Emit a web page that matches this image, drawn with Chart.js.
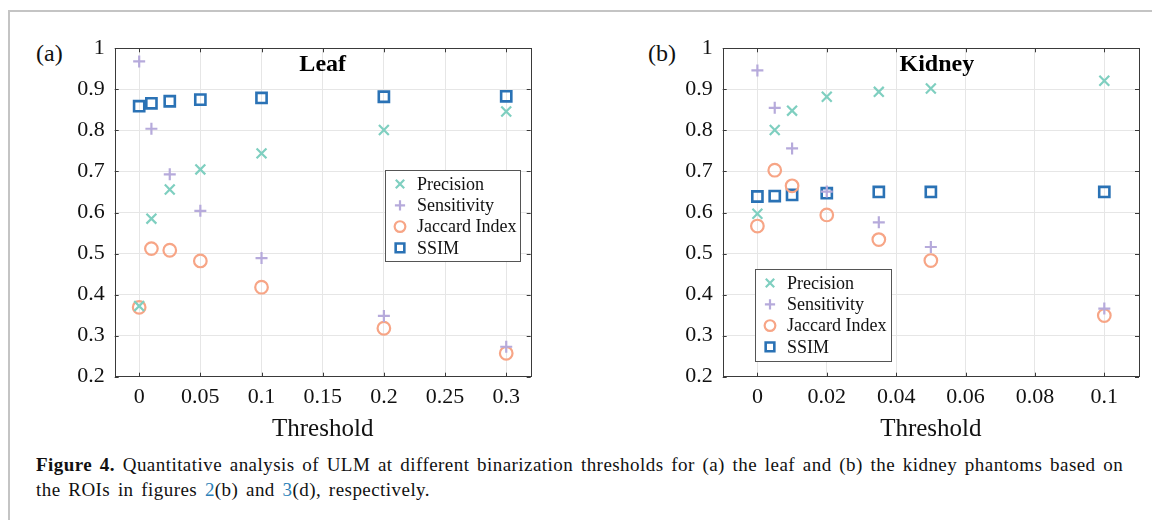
<!DOCTYPE html>
<html>
<head>
<meta charset="utf-8">
<script src="https://cdn.jsdelivr.net/npm/chart.js"></script>
<style>
  html, body { margin: 0; padding: 0; background: #fff; }
  body { width: 1152px; height: 520px; position: relative; overflow: hidden; font-family: "Liberation Serif", "DejaVu Serif", serif; color: #111; }
  #frame { position: absolute; left: 8px; top: 10px; width: 1160px; height: 530px; border-top: 2px solid #c4c4c4; border-left: 2px solid #c4c4c4; }
  canvas { position: absolute; }
  #c1 { left: 20px; top: 20px; }
  #c2 { left: 600px; top: 20px; }
  .panel { position: absolute; font-size: 24px; top: 40px; }
  #caption { position: absolute; left: 36px; top: 452px; font-size: 19px; letter-spacing: 0.45px; word-spacing: 2.5px; line-height: 25px; white-space: nowrap; }
  #caption b { font-weight: bold; }
  #caption a { color: #2b7fb8; text-decoration: none; }
</style>
</head>
<body>
<div id="frame"></div>
<div class="panel" style="left:36px">(a)</div>
<div class="panel" style="left:648px">(b)</div>
<canvas id="c1" width="530" height="430"></canvas>
<canvas id="c2" width="552" height="430"></canvas>
<div id="caption"><b>Figure 4.</b> Quantitative analysis of ULM at different binarization thresholds for (a) the leaf and (b) the kidney phantoms based on<br>the ROIs in figures <a>2</a>(b) and <a>3</a>(d), respectively.</div>
<script>
// ---- data ----
var seriesNames = ['Precision', 'Sensitivity', 'Jaccard Index', 'SSIM'];

var leafThresholds = [0, 0.01, 0.025, 0.05, 0.1, 0.2, 0.3];
var leafPrecision   = [0.372, 0.585, 0.656, 0.705, 0.744, 0.801, 0.846];
var leafSensitivity = [0.968, 0.804, 0.693, 0.604, 0.489, 0.348, 0.273];
var leafJaccard     = [0.369, 0.512, 0.508, 0.482, 0.418, 0.318, 0.257];
var leafSSIM        = [0.859, 0.866, 0.871, 0.875, 0.879, 0.882, 0.883];

var kidneyThresholds = [0, 0.005, 0.01, 0.02, 0.035, 0.05, 0.1];
var kidneyPrecision   = [0.597, 0.801, 0.848, 0.882, 0.894, 0.902, 0.921];
var kidneySensitivity = [0.946, 0.855, 0.756, 0.651, 0.576, 0.516, 0.366];
var kidneyJaccard     = [0.567, 0.703, 0.665, 0.594, 0.534, 0.483, 0.349];
var kidneySSIM        = [0.639, 0.640, 0.643, 0.647, 0.650, 0.650, 0.650];

var yTicks = [0.2, 0.3, 0.4, 0.5, 0.6, 0.7, 0.8, 0.9, 1];
var yTickLabels = ['0.2', '0.3', '0.4', '0.5', '0.6', '0.7', '0.8', '0.9', '1'];
var leafXTicks = [0, 0.05, 0.1, 0.15, 0.2, 0.25, 0.3];
var leafXTickLabels = ['0', '0.05', '0.1', '0.15', '0.2', '0.25', '0.3'];
var kidneyXTicks = [0, 0.02, 0.04, 0.06, 0.08, 0.1];
var kidneyXTickLabels = ['0', '0.02', '0.04', '0.06', '0.08', '0.1'];

// ---- styles ----
var markerStyles = [
	{ color: '#7fcfc0', pointStyle: 'crossRot', radius: 7, width: 2.2 },
	{ color: '#b6aadb', pointStyle: 'cross', radius: 6, width: 2.2 },
	{ color: '#f7a586', pointStyle: 'circle', radius: 6.3, width: 2.2 },
	{ color: '#2a72b5', pointStyle: 'rect', radius: 7.2, width: 2.6 }
];
var serif = '"Liberation Serif", "DejaVu Serif", serif';

function points(xs, ys) {
	var out = [];
	for (var i in xs) out.push({ x: xs[i], y: ys[i] });
	return out;
}

function makeDatasets(xs, lists) {
	return lists.map(function(ys, k) {
		var s = markerStyles[k];
		return {
			label: seriesNames[k],
			data: points(xs, ys),
			showLine: false,
			pointStyle: s.pointStyle,
			pointRadius: s.radius,
			pointHoverRadius: s.radius,
			pointBorderWidth: s.width,
			borderColor: s.color,
			backgroundColor: 'rgba(0,0,0,0)'
		};
	});
}

function drawMarker(ctx, s, x, y) {
	ctx.save();
	ctx.strokeStyle = s.color;
	ctx.lineWidth = s.width;
	ctx.beginPath();
	var r = s.radius;
	if (s.pointStyle == 'rect') {
		var h = r * Math.SQRT1_2;
		ctx.rect(x - h, y - h, 2 * h, 2 * h);
	} else if (s.pointStyle == 'circle') {
		ctx.arc(x, y, r, 0, Math.PI * 2);
	} else if (s.pointStyle == 'cross') {
		ctx.moveTo(x - r, y); ctx.lineTo(x + r, y);
		ctx.moveTo(x, y - r); ctx.lineTo(x, y + r);
	} else {
		var o = r * Math.SQRT1_2;
		ctx.moveTo(x - o, y - o); ctx.lineTo(x + o, y + o);
		ctx.moveTo(x - o, y + o); ctx.lineTo(x + o, y - o);
	}
	ctx.stroke();
	ctx.restore();
}

// box, inward ticks, title and legend drawn over the chart area
var framePlugin = {
	id: 'frame',
	afterDatasetsDraw: function(chart, args, opts) {
		var ctx = chart.ctx, a = chart.chartArea;
		var xs = chart.scales.x, ys = chart.scales.y;
		ctx.save();
		ctx.strokeStyle = '#3a3a3a';
		ctx.lineWidth = 1;
		ctx.strokeRect(Math.round(a.left) + 0.5, Math.round(a.top) + 0.5, Math.round(a.right - a.left), Math.round(a.bottom - a.top));
		ctx.beginPath();
		xs.ticks.forEach(function(t) {
			var px = Math.round(xs.getPixelForValue(t.value)) + 0.5;
			ctx.moveTo(px, a.top); ctx.lineTo(px, a.top + 4);
			ctx.moveTo(px, a.bottom); ctx.lineTo(px, a.bottom - 4);
		});
		ys.ticks.forEach(function(t) {
			var py = Math.round(ys.getPixelForValue(t.value)) + 0.5;
			ctx.moveTo(a.left, py); ctx.lineTo(a.left + 4, py);
			ctx.moveTo(a.right, py); ctx.lineTo(a.right - 4, py);
		});
		ctx.stroke();

		// title inside the axes
		ctx.fillStyle = '#000';
		ctx.font = 'bold 24px ' + serif;
		ctx.textAlign = 'center';
		ctx.textBaseline = 'middle';
		ctx.fillText(opts.title, (a.left + a.right) / 2 + opts.titleShift, a.top + 16);

		// legend box
		var bx = a.left + opts.legendX, by = a.top + opts.legendY;
		ctx.fillStyle = '#fff';
		ctx.fillRect(bx, by, opts.legendW, opts.legendH);
		ctx.strokeStyle = '#555';
		ctx.strokeRect(Math.round(bx) + 0.5, Math.round(by) + 0.5, opts.legendW, opts.legendH);
		ctx.font = '18px ' + serif;
		ctx.textAlign = 'left';
		ctx.fillStyle = '#111';
		seriesNames.forEach(function(name, k) {
			var ry = by + 14 + k * 21.3;
			var s = Object.assign({}, markerStyles[k]);
			s.radius = s.radius * 0.85;
			drawMarker(ctx, s, bx + 15, ry);
			ctx.fillText(name, bx + 32, ry + 1);
		});
		ctx.restore();
	}
};

function makeChart(id, xs, lists, xMin, xMax, xTicks, xLabels, yWidth, padRight, frameOpts) {
	return new Chart(document.getElementById(id), {
		type: 'scatter',
		data: { datasets: makeDatasets(xs, lists) },
		options: {
			responsive: false,
			animation: false,
			events: [],
			layout: { padding: { top: 28.3, right: padRight, left: 0, bottom: 0 } },
			plugins: {
				legend: { display: false },
				tooltip: { enabled: false },
				frame: frameOpts
			},
			scales: {
				x: {
					type: 'linear',
					min: xMin,
					max: xMax,
					afterBuildTicks: function(s) { s.ticks = xTicks.map(function(v) { return { value: v }; }); },
					afterFit: function(s) { s.height = 73.3; },
					grid: { color: '#e6e6e6', drawTicks: false },
					border: { display: false },
					ticks: {
						padding: 7,
						color: '#111',
						maxRotation: 0,
						autoSkip: false,
						font: { family: serif, size: 22 },
						callback: function(v, i) { return xLabels[i]; }
					},
					title: {
						display: true,
						text: 'Threshold',
						color: '#111',
						font: { family: serif, size: 25 },
						padding: { top: 0, bottom: 6 }
					}
				},
				y: {
					min: 0.2,
					max: 1,
					afterBuildTicks: function(s) { s.ticks = yTicks.map(function(v) { return { value: v }; }); },
					afterFit: function(s) { s.width = yWidth; },
					grid: { color: '#e6e6e6', drawTicks: false },
					border: { display: false },
					ticks: {
						padding: 10,
						color: '#111',
						autoSkip: false,
						font: { family: serif, size: 22 },
						callback: function(v, i) { return yTickLabels[i]; }
					}
				}
			}
		},
		plugins: [framePlugin]
	});
}

makeChart('c1', leafThresholds, [leafPrecision, leafSensitivity, leafJaccard, leafSSIM],
	-0.02, 0.32, leafXTicks, leafXTickLabels, 94.7, 19.3,
	{ title: 'Leaf', titleShift: 0, legendX: 270.3, legendY: 121.7, legendW: 135, legendH: 91 });

makeChart('c2', kidneyThresholds, [kidneyPrecision, kidneySensitivity, kidneyJaccard, kidneySSIM],
	-0.01, 0.11, kidneyXTicks, kidneyXTickLabels, 122.7, 13,
	{ title: 'Kidney', titleShift: 6, legendX: 32.3, legendY: 220.7, legendW: 136, legendH: 92 });
</script>
</body>
</html>
